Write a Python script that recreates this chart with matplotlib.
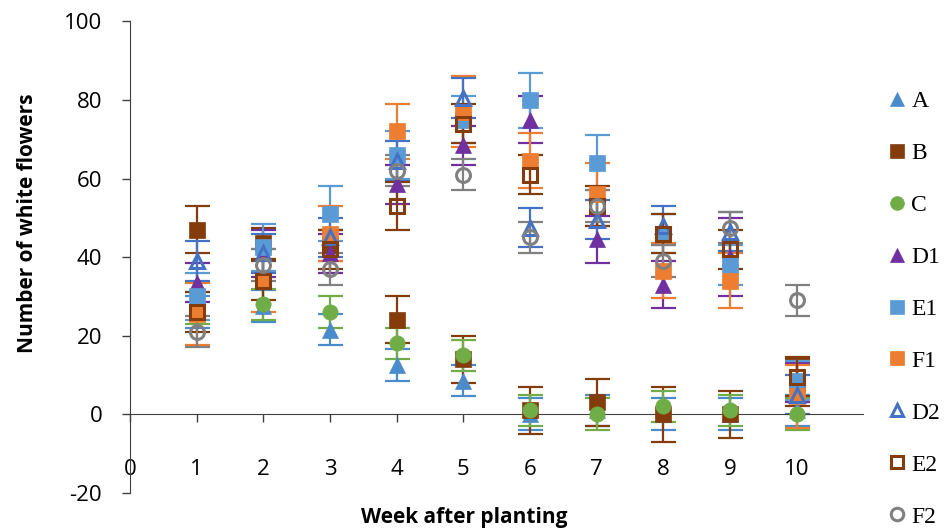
import numpy as np
import matplotlib.pyplot as plt

plt.rcParams['axes.unicode_minus'] = False

weeks = [1, 2, 3, 4, 5, 6, 7, 8, 9, 10]

a_mean = [26, 27.5, 21.5, 12.5, 8.5, 0, 1, 0, 0, 1]
a_err = [4, 4, 4, 4, 4, 4, 4, 4, 4, 4]
b_mean = [47, 43.5, 43, 24, 14, 1, 3, 0, 0, 8]
b_err = [6, 4, 4, 6, 6, 6, 6, 7, 6, 6]
c_mean = [27, 28, 26, 18, 15, 1, 0, 2, 1, 0]
c_err = [4, 4, 4, 4, 4, 4, 4, 4, 4, 4]
d1_mean = [33.5, 41, 41, 58.5, 68.5, 75, 44.5, 33, 40, 8]
d1_err = [5, 6, 5, 5, 5, 6, 6, 6, 10, 5]
e1_mean = [30, 42.5, 51, 66, 75, 80, 64, 46, 38, 8.5]
e1_err = [6, 6, 7, 6, 6, 7, 7, 5, 5, 5]
f1_mean = [25.5, 34, 46, 72, 77, 64.5, 56, 36.5, 34, 4.5]
f1_err = [8, 8, 7, 7, 9, 7, 8, 7, 7, 8]
d2_mean = [39, 41, 45, 64.5, 80.5, 47.5, 49.5, 48, 46.5, 5]
d2_err = [5, 5, 5, 5, 5, 5, 5, 5, 5, 5]
e2_mean = [26, 34, 42, 53, 74, 61, 53, 46, 42, 9.5]
e2_err = [5, 5, 5, 6, 5, 5, 5, 5, 5, 5]
f2_mean = [21, 38, 37, 62, 61, 45, 53, 39, 47.5, 29]
f2_err = [4, 4, 4, 4, 4, 4, 4, 4, 4, 4]

# name, means, errors, marker, colour, filled
series = [
    ('A', a_mean, a_err, '^', '#4A8BCB', True),
    ('B', b_mean, b_err, 's', '#843C0C', True),
    ('C', c_mean, c_err, 'o', '#70AD47', True),
    ('D1', d1_mean, d1_err, '^', '#7030A0', True),
    ('E1', e1_mean, e1_err, 's', '#5B9BD5', True),
    ('F1', f1_mean, f1_err, 's', '#ED7D31', True),
    ('D2', d2_mean, d2_err, '^', '#4472C4', False),
    ('E2', e2_mean, e2_err, 's', '#843C0C', False),
    ('F2', f2_mean, f2_err, 'o', '#808080', False),
]

fig = plt.figure(figsize=(9.49, 5.28), dpi=100)
ax = fig.add_axes([130 / 949, 1 - 492.7 / 528, 733.3 / 949, 471.2 / 528])

# error bars first, markers on top
for name, m, e, mk, col, filled in series:
    ax.errorbar(weeks, m, yerr=e, fmt='none', ecolor=col, elinewidth=1.6,
                capsize=9, capthick=1.6, zorder=2)

for name, m, e, mk, col, filled in series:
    if filled:
        ax.plot(weeks, m, linestyle='none', marker=mk, ms=11, mfc=col,
                mec=col, mew=0.5, zorder=3, label=name)
    else:
        ax.plot(weeks, m, linestyle='none', marker=mk, ms=10, mfc='none',
                mec=col, mew=2.2, zorder=3, label=name)

ax.set_xlim(0, 11)
ax.set_ylim(-20, 100)
ax.set_xticks(range(0, 11))
ax.set_yticks(range(-20, 101, 20))

axis_col = '#404040'
for side in ['top', 'right']:
    ax.spines[side].set_visible(False)
ax.spines['bottom'].set_position(('data', 0))
ax.spines['bottom'].set_color(axis_col)
ax.spines['left'].set_color(axis_col)
ax.tick_params(axis='both', direction='out', length=6, width=1, color=axis_col,
               labelsize=16, labelcolor='black')
ax.tick_params(axis='x', pad=26)
ax.tick_params(axis='y', pad=14)
for lbl in ax.get_xticklabels() + ax.get_yticklabels():
    lbl.set_fontfamily('Open Sans')

ax.set_xlabel('Week after planting', fontsize=15, fontweight='bold',
              fontfamily='Open Sans')
ax.xaxis.set_label_coords(0.4555, -0.052)
ax.xaxis.label.set_verticalalignment('center')
ax.set_ylabel('Number of white flowers', fontsize=15, fontweight='bold',
              fontfamily='Open Sans')
ax.yaxis.set_label_coords(-0.14, 0.572)
ax.yaxis.label.set_verticalalignment('center')

handles, labels = ax.get_legend_handles_labels()
fig.legend(handles, labels, loc='center left', bbox_to_anchor=(869 / 949, 1 - 309 / 528),
           frameon=False, handlelength=0.6, handletextpad=0.3, labelspacing=1.29,
           markerscale=0.9, prop={'family': 'Liberation Serif', 'size': 17})

fig.savefig('out.png', dpi=100)
